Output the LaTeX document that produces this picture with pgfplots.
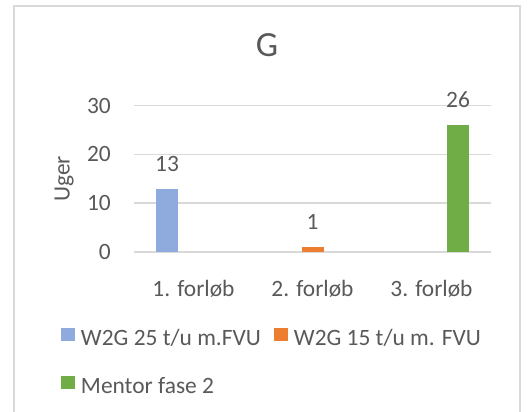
\documentclass[border=0pt]{standalone}
\usepackage{fontspec}
\setmainfont{Carlito}
\usepackage{pgfplots}
\pgfplotsset{compat=1.18}
\definecolor{txtgray}{HTML}{595959}
\definecolor{gridgray}{HTML}{D9D9D9}
\definecolor{barblue}{HTML}{8FAADC}
\definecolor{barorange}{HTML}{ED7D31}
\definecolor{bargreen}{HTML}{70AD47}

\begin{document}
\begin{tikzpicture}[font=\fontsize{23.5}{28}\selectfont]
\begin{axis}[
  scale only axis, width=357bp, height=146.4bp,
  ybar=4.5bp, bar width=22bp,
  xmin=-0.5, xmax=2.5, ymin=0, ymax=30,
  xtick={0,1,2}, xticklabels={1. forløb, 2. forløb, 3. forløb},
  ytick={0,10,20,30},
  axis line style={draw=none}, tick style={draw=none},
  ymajorgrids, major grid style={draw=gridgray, line width=1.5bp},
  /pgf/number format/assume math mode=true,
  tick label style={text=txtgray},
  yticklabel style={inner sep=0pt, xshift=-23bp},
  xticklabel style={inner sep=0pt, anchor=base, yshift=-40bp},
  ylabel=Uger,
  ylabel style={at={(axis description cs:-0.196,0.5)}, anchor=center, text=txtgray},
  title=G,
  title style={at={(axis description cs:0.3725,1.373)}, anchor=center, inner sep=0pt,
    font=\fontsize{35.5}{42}\selectfont, text=txtgray},
  nodes near coords,
  every node near coord/.append style={anchor=center, yshift=25bp, text=txtgray},
  legend columns=2,
  legend cell align=left,
  legend style={draw=none, fill=none, inner sep=0pt, outer sep=0pt,
    at={(axis description cs:-0.2045,-0.519)}, anchor=north west,
    row sep=24bp,
    nodes={inner sep=0pt, text height=15bp, text depth=6bp, text=txtgray},
    /tikz/every odd column/.append style={column sep=6bp},
    /tikz/every even column/.append style={column sep=13bp}},
  legend image code/.code={\fill[#1] (0bp,0bp) rectangle (14bp,13.5bp);},
]
\addplot[fill=barblue, draw=none] coordinates {(0,13)};
\addlegendentry{W2G 25 t/u m.FVU}
\addplot[fill=barorange, draw=none] coordinates {(1,1)};
\addlegendentry{W2G 15 t/u m. FVU}
\addplot[fill=bargreen, draw=none] coordinates {(2,26)};
\addlegendentry{Mentor fase 2}
\end{axis}
\draw[gridgray, line width=1.5bp] (-120bp,-170bp) -- (-120bp,246bp) -- (386bp,246bp) -- (386bp,-170bp);
\pgfresetboundingbox
\path[use as bounding box] (-134bp,-160bp) rectangle (394bp,252bp);
\end{tikzpicture}
\end{document}
